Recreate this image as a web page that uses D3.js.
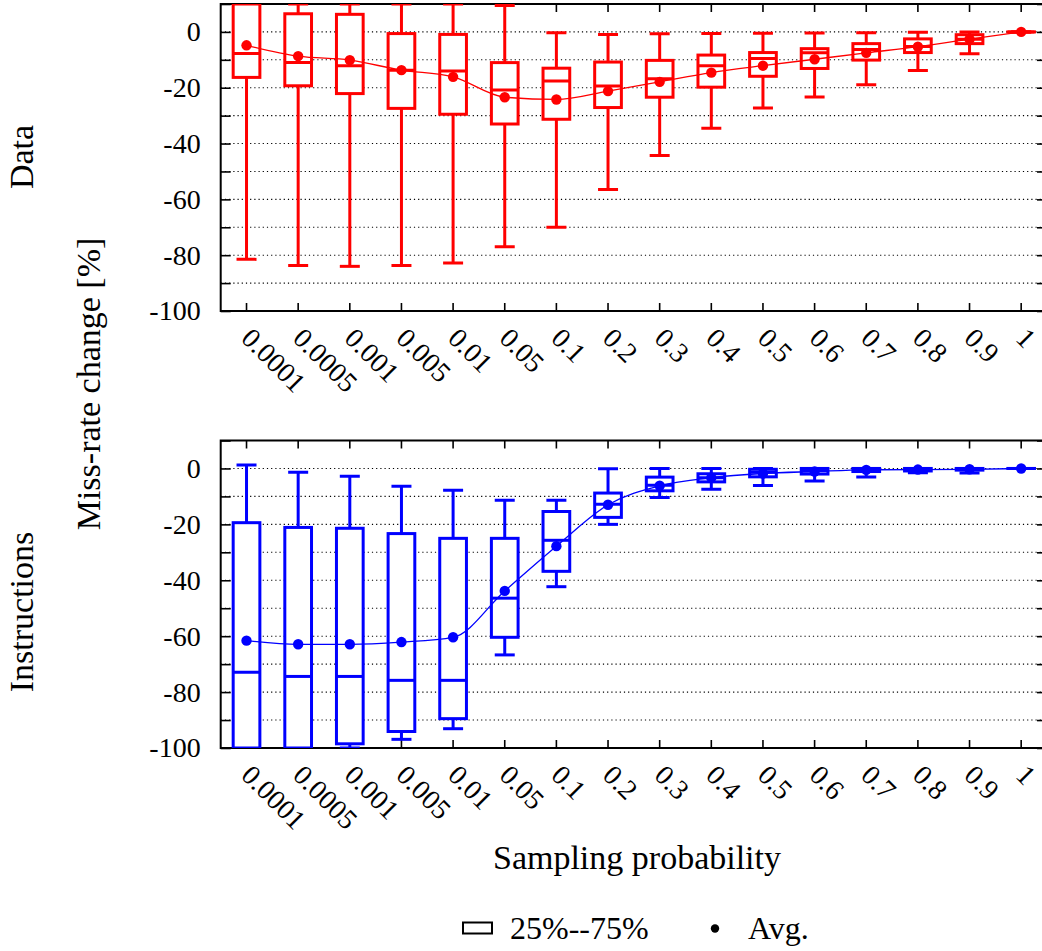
<!DOCTYPE html>
<html>
<head>
<meta charset="utf-8">
<script src="https://cdn.jsdelivr.net/npm/d3@7/dist/d3.min.js"></script>
<style>
  html, body { margin: 0; padding: 0; background: #fff; }
  svg { display: block; }
  text { font-family: "Liberation Serif", "Times New Roman", serif; fill: #000; }
</style>
</head>
<body>
<svg id="chart" width="1042" height="951"></svg>
<script>
// ---------- data ----------
const categories = ["0.0001","0.0005","0.001","0.005","0.01","0.05","0.1","0.2","0.3","0.4","0.5","0.6","0.7","0.8","0.9","1"];

// Data (top panel)
const dataMin = [-81.5,-83.7,-84.0,-83.7,-82.8,-77.0,-70.0,-56.5,-44.3,-34.5,-27.3,-23.3,-18.9,-13.8,-7.8,0];
const dataQ1  = [-16.3,-19.3,-22.1,-27.4,-29.5,-33.0,-31.3,-27.1,-23.4,-19.8,-15.9,-13.1,-10.1,-7.4,-4.2,0];
const dataMed = [-7.7,-11.0,-12.1,-13.7,-14.0,-20.8,-17.6,-19.4,-16.8,-12.1,-9.5,-7.5,-6.3,-5.2,-2.6,0];
const dataQ3  = [10,6.5,6.3,-0.6,-0.9,-11.0,-13.0,-10.8,-10.2,-8.3,-7.4,-6.0,-4.2,-2.5,-1.0,0];
const dataMax = [10,10,10,10,10,9.5,-0.3,-0.9,-0.7,-0.6,-0.5,-0.4,-0.3,-0.1,0,0];
const dataAvg = [-4.8,-8.7,-10.1,-13.7,-16.1,-23.4,-24.2,-21.2,-17.9,-14.6,-12.1,-9.8,-7.5,-5.3,-2.6,0];

// Instructions (bottom panel)
const instrMin = [-100,-100,-100,-96.9,-93.1,-66.7,-42.3,-20.0,-10.4,-7.4,-6.1,-4.5,-3.1,-1.5,-1.6,0];
const instrQ1  = [-100,-100,-98.5,-94.1,-89.5,-60.4,-36.8,-17.5,-8.0,-4.8,-3.0,-2.0,-1.1,-0.9,-0.6,0];
const instrMed = [-72.9,-74.4,-74.4,-75.8,-75.8,-46.4,-25.7,-12.8,-6.0,-3.3,-1.4,-0.8,-0.5,-0.3,-0.1,0];
const instrQ3  = [-19.4,-21.1,-21.4,-23.3,-25.0,-25.0,-15.4,-8.8,-3.1,-1.9,-0.3,0,0,0,0,0];
const instrMax = [1.2,-1.4,-2.8,-6.4,-7.8,-11.4,-11.4,-0.1,0,0,0,0,0,0,0,0];
const instrAvg = [-61.6,-62.9,-62.9,-62.1,-60.4,-43.8,-27.8,-13.0,-6.2,-3.3,-1.8,-1.1,-0.5,-0.4,-0.3,0];

const yDomain = [-100, 10];
const gridValues = [-90,-80,-70,-60,-50,-40,-30,-20,-10,0];
const tickValues = [-100,-90,-80,-70,-60,-50,-40,-30,-20,-10,0,10];
const labelValues = [-100,-80,-60,-40,-20,0];

// ---------- layout ----------
const svg = d3.select("#chart");
const FONT = '"Liberation Serif", "Times New Roman", serif';
const left = 220.7, right = 1047;
const panels = [
  { name: "Data", color: "#ff0000", top: 4, bottom: 311, labelY: 157,
    min: dataMin, q1: dataQ1, med: dataMed, q3: dataQ3, max: dataMax, avg: dataAvg },
  { name: "Instructions", color: "#0000ff", top: 440.5, bottom: 748, labelY: 612,
    min: instrMin, q1: instrQ1, med: instrMed, q3: instrQ3, max: instrMax, avg: instrAvg }
];

const x = d3.scaleBand().domain(categories).range([left, right]).padding(0);
const cx = c => x(c) + x.bandwidth() / 2;
const boxW = 26.7, capW = 20;

panels.forEach((p, pi) => {
  const y = d3.scaleLinear().domain(yDomain).range([p.bottom, p.top]);
  const g = svg.append("g");
  const clipId = "clip" + pi;
  svg.append("clipPath").attr("id", clipId).append("rect")
    .attr("x", left).attr("y", p.top).attr("width", right - left).attr("height", p.bottom - p.top);

  // grid
  g.append("g").selectAll("line").data(gridValues).join("line")
    .attr("x1", left).attr("x2", right)
    .attr("y1", d => y(d)).attr("y2", d => y(d))
    .attr("stroke", "#000").attr("stroke-width", 1.1)
    .attr("stroke-dasharray", "1.2,3");

  // axes (inward ticks)
  const yl = g.append("g").attr("transform", `translate(${left},0)`)
    .call(d3.axisLeft(y).tickValues(tickValues).tickSize(-10).tickPadding(20)
      .tickFormat(d => labelValues.includes(d) ? String(d) : ""));
  const yr = g.append("g").attr("transform", `translate(${right},0)`)
    .call(d3.axisRight(y).tickValues(tickValues).tickSize(-10).tickFormat(""));
  const xb = g.append("g").attr("transform", `translate(0,${p.bottom})`)
    .call(d3.axisBottom(x).tickSize(-8).tickFormat(""));
  const xt = g.append("g").attr("transform", `translate(0,${p.top})`)
    .call(d3.axisTop(x).tickSize(-8).tickFormat(""));
  [yl, yr, xb, xt].forEach(a => {
    a.attr("font-family", FONT);
    a.select(".domain").remove();
    a.selectAll(".tick line").attr("stroke", "#000").attr("stroke-width", 1.6);
  });
  yl.selectAll(".tick text").attr("font-family", FONT).attr("font-size", 28).attr("fill", "#000");

  // x tick labels rotated
  g.append("g").selectAll("text").data(categories).join("text")
    .attr("transform", d => `translate(${cx(d)},${p.bottom + 22}) rotate(45)`)
    .attr("dominant-baseline", "central")
    .attr("font-family", FONT).attr("font-size", 28)
    .text(d => d);

  // marks
  const m = svg.append("g").attr("clip-path", `url(#${clipId})`);
  const idx = d3.range(categories.length);
  // whiskers
  m.selectAll(".wu").data(idx).join("line")
    .attr("x1", i => cx(categories[i])).attr("x2", i => cx(categories[i]))
    .attr("y1", i => y(p.max[i])).attr("y2", i => y(p.q3[i]))
    .attr("stroke", p.color).attr("stroke-width", 3);
  m.selectAll(".wl").data(idx).join("line")
    .attr("x1", i => cx(categories[i])).attr("x2", i => cx(categories[i]))
    .attr("y1", i => y(p.q1[i])).attr("y2", i => y(p.min[i]))
    .attr("stroke", p.color).attr("stroke-width", 3);
  // caps
  m.selectAll(".cu").data(idx).join("line")
    .attr("x1", i => cx(categories[i]) - capW / 2).attr("x2", i => cx(categories[i]) + capW / 2)
    .attr("y1", i => y(p.max[i])).attr("y2", i => y(p.max[i]))
    .attr("stroke", p.color).attr("stroke-width", 3);
  m.selectAll(".cl").data(idx).join("line")
    .attr("x1", i => cx(categories[i]) - capW / 2).attr("x2", i => cx(categories[i]) + capW / 2)
    .attr("y1", i => y(p.min[i])).attr("y2", i => y(p.min[i]))
    .attr("stroke", p.color).attr("stroke-width", 3);
  // boxes
  m.selectAll(".bx").data(idx).join("rect")
    .attr("x", i => cx(categories[i]) - boxW / 2).attr("width", boxW)
    .attr("y", i => y(p.q3[i])).attr("height", i => Math.max(0.01, y(p.q1[i]) - y(p.q3[i])))
    .attr("fill", "#fff").attr("stroke", p.color).attr("stroke-width", 3);
  // medians
  m.selectAll(".md").data(idx).join("line")
    .attr("x1", i => cx(categories[i]) - boxW / 2).attr("x2", i => cx(categories[i]) + boxW / 2)
    .attr("y1", i => y(p.med[i])).attr("y2", i => y(p.med[i]))
    .attr("stroke", p.color).attr("stroke-width", 3);
  // mean line
  const line = d3.line().x(i => cx(categories[i])).y(i => y(p.avg[i])).curve(d3.curveMonotoneX);
  m.append("path").datum(idx).attr("d", line)
    .attr("fill", "none").attr("stroke", p.color).attr("stroke-width", 1.3);
  m.selectAll(".av").data(idx).join("circle")
    .attr("cx", i => cx(categories[i])).attr("cy", i => y(p.avg[i])).attr("r", 5.2)
    .attr("fill", p.color);

  // frame
  g.append("rect").attr("x", left).attr("y", p.top).attr("width", right - left).attr("height", p.bottom - p.top)
    .attr("fill", "none").attr("stroke", "#000").attr("stroke-width", 2);

  // panel name
  svg.append("text")
    .attr("transform", `translate(33,${p.labelY}) rotate(-90)`)
    .attr("text-anchor", "middle").attr("font-family", FONT).attr("font-size", 34)
    .text(p.name);
});

// shared labels
svg.append("text")
  .attr("transform", `translate(100,384) rotate(-90)`)
  .attr("text-anchor", "middle").attr("font-family", FONT).attr("font-size", 34)
  .text("Miss-rate change [%]");
svg.append("text")
  .attr("x", 637).attr("y", 869).attr("text-anchor", "middle")
  .attr("font-family", FONT).attr("font-size", 34)
  .text("Sampling probability");

// legend
const lg = svg.append("g");
lg.append("rect").attr("x", 463).attr("y", 922.5).attr("width", 29).attr("height", 11)
  .attr("fill", "none").attr("stroke", "#000").attr("stroke-width", 2);
lg.append("text").attr("x", 510).attr("y", 938.5).attr("font-family", FONT).attr("font-size", 32)
  .text("25%--75%");
lg.append("circle").attr("cx", 715).attr("cy", 928.5).attr("r", 4.2).attr("fill", "#000");
lg.append("text").attr("x", 748).attr("y", 938.5).attr("font-family", FONT).attr("font-size", 32)
  .text("Avg.");
</script>
</body>
</html>
